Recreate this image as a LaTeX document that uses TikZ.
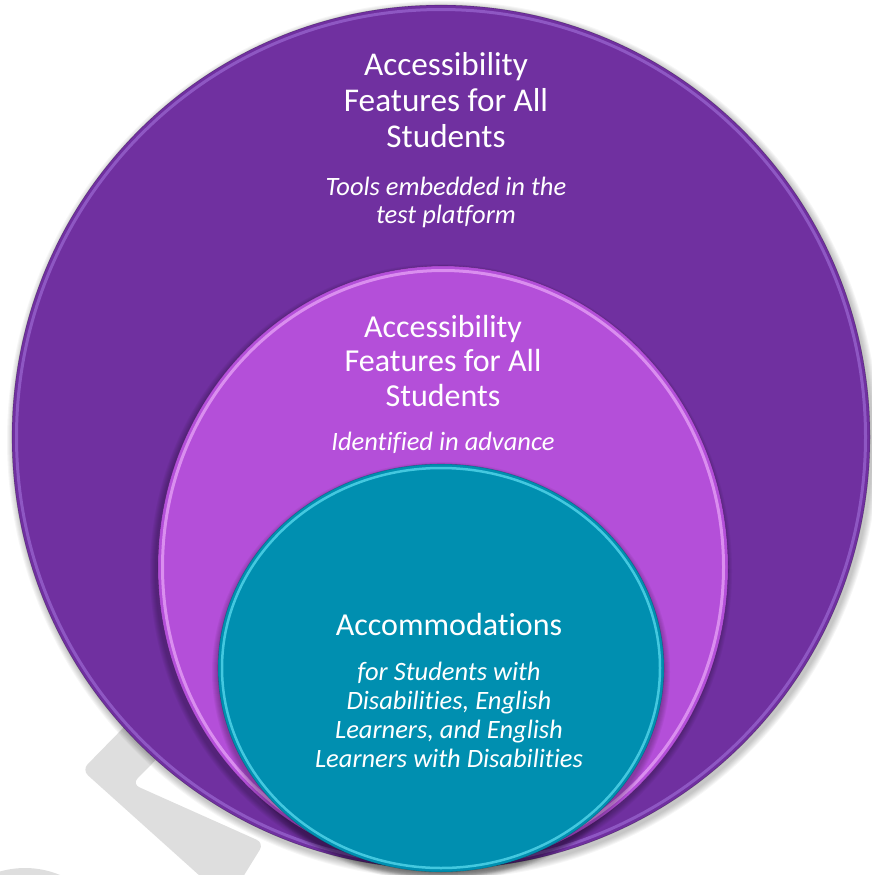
\documentclass[tikz,border=0pt]{standalone}
\usepackage{fontspec}
\setmainfont{Carlito}[Ligatures=NoCommon]
\definecolor{outerC}{HTML}{7030A0}
\definecolor{outerH}{HTML}{A878E0}
\definecolor{midC}{HTML}{B44FD9}
\definecolor{midH}{HTML}{F4B8FF}
\definecolor{innC}{HTML}{008FB0}
\definecolor{innH}{HTML}{70EEFF}
\definecolor{wmC}{HTML}{DEDEDE}
\tikzset{
  wm/.style={fill=wmC},
  title/.style={text=white, anchor=base, font=\fontsize{33.2}{36}\selectfont},
  titleb/.style={text=white, anchor=base, font=\fontsize{32}{36}\selectfont},
  sub/.style={text=white, anchor=base, font=\itshape\fontsize{26.5}{29}\selectfont},
}
\begin{document}
\begin{tikzpicture}[x=1pt,y=-1pt]
\useasboundingbox (0,0) rectangle (872,875);
\begin{scope}
\clip (0,0) rectangle (872,875);
% watermark fragments
\fill[wm, rounded corners=8pt] (175,675) -- (82,770) -- (210,885) -- (238,885) -- (264,843) -- (132,784) -- (210,705) -- cycle;
\fill[wm] (25,959) circle (91);
% outer disc
\foreach \i in {1,...,7} {\fill[black, opacity=0.035] (443,440) ellipse ({429+\i} and {432+\i});}
\fill[outerC] (441,437) ellipse (429 and 432);
\draw[outerH, line width=3pt, opacity=0.55] (441,437) ellipse (424.5 and 427.5);
\draw[black, opacity=0.25, line width=0.6pt] (441,437) ellipse (429 and 432);
% middle disc
\foreach \i in {1,...,6} {\fill[black, opacity=0.045] (441,571) ellipse ({285+\i} and {301+\i});}
\fill[midC] (443,567) ellipse (285 and 301);
\draw[midH, line width=3pt, opacity=0.6] (443,567) ellipse (280.5 and 296.5);
\draw[black, opacity=0.2, line width=0.6pt] (443,567) ellipse (285 and 301);
% inner disc
\foreach \i in {1,...,6} {\fill[black, opacity=0.045] (441,672) ellipse ({223+\i} and {204+\i});}
\fill[innC] (441,668) ellipse (223 and 204);
\draw[innH, line width=2.5pt, opacity=0.6] (441,668) ellipse (219 and 200);
\draw[black, opacity=0.2, line width=0.6pt] (441,668) ellipse (223 and 204);
\end{scope}
% outer texts
\node[title] (o1) at (446,75) {Accessibility};
\node[title] (o2) at (446,111) {Features for All};
\node[title] (o3) at (446,147) {Students};
\node[sub] (o4) at (446,195) {Tools embedded in the};
\node[sub] (o5) at (446,223) {test platform};
% middle texts
\node[titleb] (m1) at (443,337) {Accessibility};
\node[titleb] (m2) at (443,371.5) {Features for All};
\node[titleb] (m3) at (443,406) {Students};
\node[sub] (m4) at (443,450) {Identified in advance};
% inner texts
\node[titleb] (i1) at (449,635) {Accommodations};
\node[sub] (i2) at (449,680) {for Students with};
\node[sub] (i3) at (449,709) {Disabilities, English};
\node[sub] (i4) at (449,738) {Learners, and English};
\node[sub] (i5) at (449,767) {Learners with Disabilities};
\end{tikzpicture}
\end{document}
